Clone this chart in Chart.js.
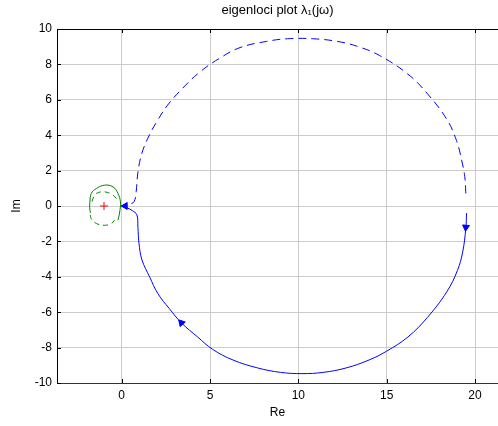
<!DOCTYPE html>
<html>
<head>
<meta charset="utf-8">
<script src="https://cdn.jsdelivr.net/npm/chart.js@4.4.0/dist/chart.umd.min.js"></script>
<style>
  html, body { margin: 0; padding: 0; background: #fff; }
  #wrap { width: 498px; height: 426px; }
</style>
</head>
<body>
<div id="wrap"><canvas id="grafico" width="498" height="426"></canvas></div>
<script>
// eigenlocus 1 (blue), positive frequencies: solid, negative: dashed
const azulSolido = [
    [19.52, -0.4], [19.48, -1.25], [19.3, -2.6], [19.0, -3.65], [18.4, -4.85], [17.3, -6.3],
    [16.2, -7.4], [15.0, -8.2], [14.0, -8.7], [12.7, -9.15], [11.4, -9.4], [10.2, -9.47],
    [9.0, -9.4], [7.7, -9.15], [6.3, -8.7], [5.15, -8.1], [4.3, -7.4], [3.38, -6.6],
    [2.7, -5.8], [2.05, -4.95], [1.58, -4.0], [1.15, -3.05], [0.98, -2.1], [0.92, -1.2],
    [0.86, -0.5], [0.6, -0.26], [0.3, -0.1], [0.0, 0.0]
];
const azulTracejado = [
    [19.48, 0.71], [19.42, 1.65], [19.24, 2.6], [18.95, 3.7], [18.4, 4.9], [17.3, 6.35],
    [16.2, 7.45], [14.6, 8.5], [13.4, 9.0], [12.2, 9.3], [10.8, 9.45], [9.4, 9.45],
    [8.2, 9.3], [6.7, 8.95], [5.55, 8.35], [4.4, 7.55], [3.4, 6.6], [2.6, 5.7], [2.04, 4.85],
    [1.59, 4.05], [1.15, 3.0], [0.92, 1.9], [0.82, 0.8], [0.7, 0.25], [0.4, 0.08], [0.1, 0.0]
];

// eigenlocus 2 (green)
const verdeSolido = [
    [-1.77, -0.39], [-1.81, -0.1], [-1.8, 0.2], [-1.72, 0.71], [-1.43, 0.99], [-0.96, 1.18],
    [-0.49, 1.08], [-0.21, 0.71], [-0.07, 0.23], [-0.11, -0.33], [-0.21, -0.8]
];
const verdeTracejadoCima = [
    [-1.68, 0.25], [-1.62, 0.42], [-1.43, 0.71], [-0.96, 0.8], [-0.49, 0.61], [-0.3, 0.42]
];
const verdeTracejadoBaixo = [
    [-1.78, -0.5], [-1.72, -0.71], [-1.43, -0.99], [-0.96, -1.09], [-0.58, -0.99], [-0.4, -0.8]
];

// direction arrows on the blue locus: [x, y, rotation in degrees]
const setas = [[19.48, -1.2, 185], [3.38, -6.6, -42], [0.2, 0.0, -90]];

// critical point -1 + 0j
const pontoCritico = [[-1, 0]];

const xTicks = [0, 5, 10, 15, 20];
const yTicks = [-10, -8, -6, -4, -2, 0, 2, 4, 6, 8, 10];

const toXY = arr => arr.map(p => ({ x: p[0], y: p[1] }));

const fonte = { family: "'Liberation Sans', Arial, sans-serif", size: 12 };

const moldura = {
    id: 'moldura',
    afterDatasetsDraw(chart) {
        const { ctx, chartArea: a, scales } = chart;
        ctx.save();
        ctx.strokeStyle = '#000';
        ctx.lineWidth = 1;
        ctx.beginPath();
        ctx.moveTo(a.left, a.top + 0.5);
        ctx.lineTo(a.right, a.top + 0.5);
        xTicks.forEach(v => {
            const px = Math.round(scales.x.getPixelForValue(v)) + 0.5;
            ctx.moveTo(px, a.top);
            ctx.lineTo(px, a.top + 4);
            ctx.moveTo(px, a.bottom);
            ctx.lineTo(px, a.bottom - 4);
        });
        yTicks.forEach(v => {
            const py = Math.round(scales.y.getPixelForValue(v)) + 0.5;
            ctx.moveTo(a.left, py);
            ctx.lineTo(a.left + 4, py);
        });
        ctx.stroke();
        ctx.restore();
    }
};

const ctx = document.getElementById('grafico').getContext('2d');

new Chart(ctx, {
    type: 'scatter',
    data: {
        datasets: [
            {
                data: toXY(azulSolido), showLine: true, borderColor: '#0000ff', borderWidth: 1,
                pointRadius: 0, tension: 0.4, fill: false
            },
            {
                data: toXY(azulTracejado), showLine: true, borderColor: '#0000ff', borderWidth: 1,
                borderDash: [8, 5], pointRadius: 0, tension: 0.4, fill: false
            },
            {
                data: toXY(verdeSolido), showLine: true, borderColor: '#008000', borderWidth: 1,
                pointRadius: 0, tension: 0.4, fill: false
            },
            {
                data: toXY(verdeTracejadoCima), showLine: true, borderColor: '#008000', borderWidth: 1,
                borderDash: [5, 4], pointRadius: 0, tension: 0.4, fill: false
            },
            {
                data: toXY(verdeTracejadoBaixo), showLine: true, borderColor: '#008000', borderWidth: 1,
                borderDash: [5, 4], pointRadius: 0, tension: 0.4, fill: false
            },
            {
                data: toXY(setas), pointStyle: 'triangle', pointRadius: 4,
                rotation: setas.map(s => s[2]),
                backgroundColor: '#0000ff', borderColor: '#0000ff', borderWidth: 1
            },
            {
                data: toXY(pontoCritico), pointStyle: 'cross', pointRadius: 4,
                borderColor: '#ff0000', borderWidth: 1
            }
        ]
    },
    options: {
        responsive: false,
        animation: false,
        layout: { padding: 0, autoPadding: false },
        plugins: {
            legend: { display: false },
            tooltip: { enabled: false },
            title: {
                display: true,
                fullSize: false,
                text: 'eigenloci plot λ₁(jω)',
                color: '#000',
                font: { family: fonte.family, size: 13, weight: 'normal' },
                padding: { top: 3, bottom: 10.4 }
            }
        },
        scales: {
            x: {
                type: 'linear',
                min: -3.66,
                max: 21.3,
                ticks: { stepSize: 5, includeBounds: false, color: '#000', font: fonte, padding: 5, maxRotation: 0 },
                grid: { color: '#cccccc', drawTicks: false },
                border: { color: '#333', width: 1 },
                title: { display: true, text: 'Re', color: '#000', font: fonte, padding: { top: 0, bottom: 6 } },
                afterFit(scale) {
                    scale.height = 43;
                    scale.paddingLeft = 0;
                    scale.paddingRight = 0;
                }
            },
            y: {
                type: 'linear',
                min: -10,
                max: 10,
                ticks: { stepSize: 2, color: '#000', font: fonte, padding: 5 },
                grid: { color: '#cccccc', drawTicks: false },
                border: { color: '#000', width: 1 },
                title: { display: true, text: 'Im', color: '#000', font: fonte, padding: { top: 9, bottom: 0 } },
                afterFit(scale) { scale.width = 57; }
            }
        }
    },
    plugins: [moldura]
});
</script>
</body>
</html>
